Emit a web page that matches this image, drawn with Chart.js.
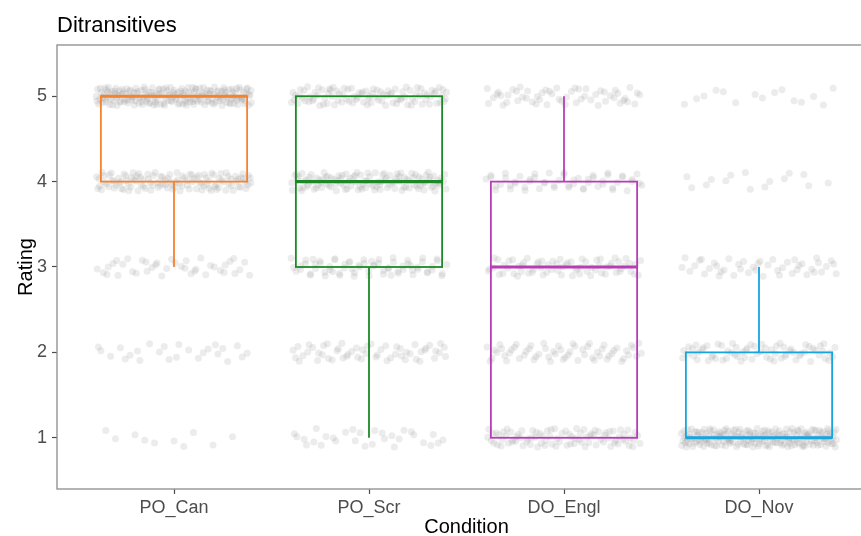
<!DOCTYPE html>
<html>
<head>
<meta charset="utf-8">
<script src="https://cdn.jsdelivr.net/npm/chart.js@4.4.1/dist/chart.umd.min.js"></script>
<style>
  html, body { margin: 0; padding: 0; background: #fff; overflow: hidden; }
  canvas { display: block; }
</style>
</head>
<body>
<canvas id="ditransitivesChart" width="880" height="536"></canvas>
<script>
// conditions on the x axis
const conditions = ["PO_Can", "PO_Scr", "DO_Engl", "DO_Nov"];
const ratings = [1, 2, 3, 4, 5];
const boxColors = ["#F5822E", "#1B8A26", "#B73DB8", "#17A5DF"];

const countsPOCan  = [10, 25, 40, 120, 200];
const countsPOScr  = [30, 55, 70, 120, 100];
const countsDOEngl = [90, 60, 70, 55, 55];
const countsDONov  = [200, 70, 45, 15, 15];

// box stats: lower whisker, q1, median, q3, upper whisker
const whiskerLow  = [3, 1, 1, 1];
const q1Values    = [4, 3, 1, 1];
const medians     = [5, 4, 3, 1];
const q3Values    = [5, 5, 4, 2];
const whiskerHigh = [5, 5, 5, 3];

const allCounts = [countsPOCan, countsPOScr, countsDOEngl, countsDONov];

// deterministic spread for the jitter (halton sequence)
function halton(i, base) {
    let f = 1, r = 0;
    while (i > 0) {
        f = f / base;
        r = r + f * (i % base);
        i = Math.floor(i / base);
    }
    return r;
}

function buildJitterPoints() {
    let pts = [];
    let k = 1;
    allCounts.forEach((counts, c) => {
        counts.forEach((n, r) => {
            for (let j = 0; j < n; j++) {
                pts.push({
                    x: c + 1 + (halton(k, 2) - 0.5) * 0.8,
                    y: ratings[r] + (halton(k, 3) - 0.5) * 0.22
                });
                k++;
            }
        });
    });
    return pts;
}

Chart.defaults.font.family = "'Liberation Sans', Arial, sans-serif";

// panel border + boxplots + title
const boxplotPlugin = {
    id: "boxplots",
    beforeDatasetsDraw(chart) {
        const { ctx, chartArea } = chart;
        ctx.save();
        ctx.strokeStyle = "#8c8c8c";
        ctx.lineWidth = 1.3;
        ctx.strokeRect(chartArea.left, chartArea.top, chartArea.right - chartArea.left, chartArea.bottom - chartArea.top);
        ctx.restore();
    },
    afterDatasetsDraw(chart) {
        const { ctx, scales } = chart;
        const xs = scales.x, ys = scales.y;
        ctx.save();
        conditions.forEach((c, i) => {
            const xl = xs.getPixelForValue(i + 1 - 0.375);
            const xr = xs.getPixelForValue(i + 1 + 0.375);
            const xm = xs.getPixelForValue(i + 1);
            const yq1 = ys.getPixelForValue(q1Values[i]);
            const yq3 = ys.getPixelForValue(q3Values[i]);
            const ymed = ys.getPixelForValue(medians[i]);
            const ylo = ys.getPixelForValue(whiskerLow[i]);
            const yhi = ys.getPixelForValue(whiskerHigh[i]);
            ctx.strokeStyle = boxColors[i];
            ctx.lineWidth = 1.8;
            // whiskers
            ctx.beginPath();
            ctx.moveTo(xm, yq1); ctx.lineTo(xm, ylo);
            ctx.moveTo(xm, yq3); ctx.lineTo(xm, yhi);
            ctx.stroke();
            ctx.strokeRect(xl, yq3, xr - xl, yq1 - yq3);
            // median
            ctx.lineWidth = 3.2;
            ctx.beginPath();
            ctx.moveTo(xl, ymed); ctx.lineTo(xr, ymed);
            ctx.stroke();
        });
        ctx.restore();
    },
    afterDraw(chart) {
        const ctx = chart.ctx;
        ctx.save();
        ctx.fillStyle = "#000";
        ctx.font = "22px 'Liberation Sans', Arial, sans-serif";
        ctx.textBaseline = "alphabetic";
        ctx.fillText("Ditransitives", chart.chartArea.left, 32);
        ctx.restore();
    }
};

const ctx = document.getElementById("ditransitivesChart").getContext("2d");
const mainChart = new Chart(ctx, {
    type: "scatter",
    data: {
        datasets: [{
            data: buildJitterPoints(),
            pointRadius: 3.5,
            pointBackgroundColor: "rgba(128,128,128,0.15)",
            pointBorderWidth: 0
        }]
    },
    options: {
        responsive: false,
        animation: false,
        layout: { padding: { top: 45, right: 4, left: 0, bottom: 0 } },
        plugins: {
            legend: { display: false },
            tooltip: { enabled: false }
        },
        scales: {
            x: {
                type: "linear",
                min: 0.4,
                max: 4.6,
                afterBuildTicks: (s) => { s.ticks = conditions.map((c, i) => ({ value: i + 1 })); },
                afterFit: (s) => { s.height = 47; },
                ticks: {
                    callback: (v) => conditions[v - 1],
                    font: { size: 18 },
                    color: "#4d4d4d",
                    padding: 3,
                    maxRotation: 0
                },
                grid: { drawOnChartArea: false, tickLength: 5, tickColor: "#4d4d4d", tickWidth: 1.2 },
                border: { display: false },
                title: { display: true, text: "Condition", font: { size: 20 }, color: "#000", padding: { top: 0, bottom: -3 } }
            },
            y: {
                min: 0.4,
                max: 5.6,
                afterBuildTicks: (s) => { s.ticks = ratings.map(r => ({ value: r })); },
                afterFit: (s) => { s.width = 57; },
                ticks: {
                    font: { size: 18 },
                    color: "#4d4d4d",
                    padding: 5
                },
                grid: { drawOnChartArea: false, tickLength: 5, tickColor: "#4d4d4d", tickWidth: 1.2 },
                border: { display: false },
                title: { display: true, text: "Rating", font: { size: 20 }, color: "#000", padding: { top: 14, bottom: 0 } }
            }
        }
    },
    plugins: [boxplotPlugin]
});
</script>
</body>
</html>
